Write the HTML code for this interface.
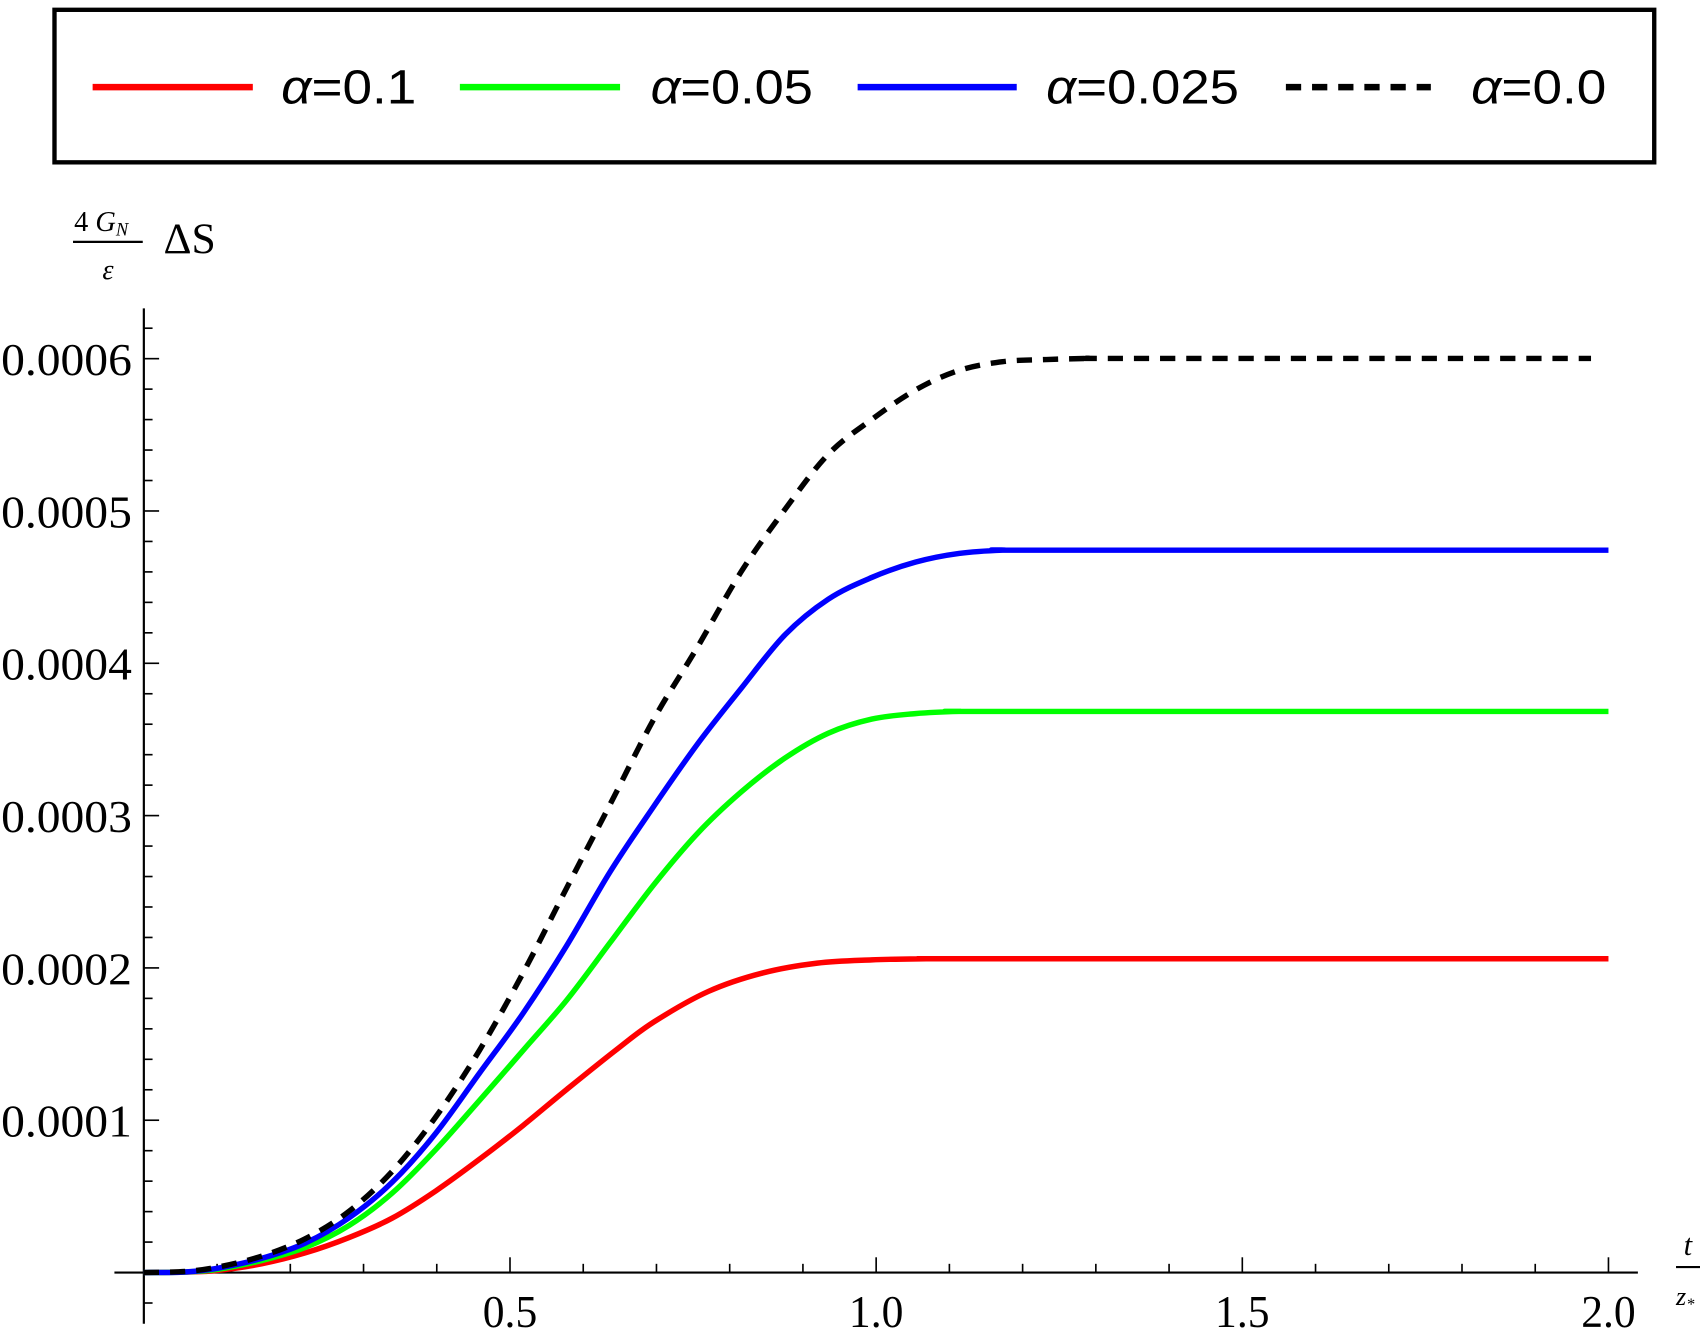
<!DOCTYPE html>
<html><head><meta charset="utf-8"><style>
html,body{margin:0;padding:0;background:#fff;}
svg{display:block;}
</style></head><body>
<svg width="1700" height="1339" viewBox="0 0 1560 1229" preserveAspectRatio="none" xmlns="http://www.w3.org/2000/svg">
<rect x="0" y="0" width="1560" height="1229" fill="#fff"/>
<rect x="50" y="9" width="1468" height="140" fill="none" stroke="#000" stroke-width="4"/>
<line x1="85" y1="80" x2="232" y2="80" stroke="#ff0000" stroke-width="6"/>
<line x1="422" y1="80" x2="569" y2="80" stroke="#00ff00" stroke-width="6"/>
<line x1="787" y1="80" x2="933" y2="80" stroke="#0000ff" stroke-width="6"/>
<line x1="1180" y1="80" x2="1313" y2="80" stroke="#000" stroke-width="6" stroke-dasharray="14,10"/>
<g font-family="Liberation Sans, sans-serif" font-size="44" fill="#000">
<text x="258" y="95" textLength="124" lengthAdjust="spacingAndGlyphs"><tspan font-style="italic">α</tspan>=0.1</text>
<text x="597" y="95" textLength="149" lengthAdjust="spacingAndGlyphs"><tspan font-style="italic">α</tspan>=0.05</text>
<text x="960" y="95" textLength="177" lengthAdjust="spacingAndGlyphs"><tspan font-style="italic">α</tspan>=0.025</text>
<text x="1350" y="95" textLength="124" lengthAdjust="spacingAndGlyphs"><tspan font-style="italic">α</tspan>=0.0</text>
</g>
<g font-family="Liberation Serif, serif" fill="#000">
<text x="68" y="212" font-size="26">4 <tspan font-style="italic">G</tspan><tspan font-style="italic" font-size="17" dy="4">N</tspan></text>
<line x1="67" y1="222" x2="131" y2="222" stroke="#000" stroke-width="2"/>
<text x="94" y="256" font-size="26" font-style="italic">ε</text>
<text x="150" y="232" font-size="40">ΔS</text>
<text x="1545" y="1152" font-size="28" font-style="italic">t</text>
<line x1="1538" y1="1163" x2="1560" y2="1163" stroke="#000" stroke-width="2"/>
<text x="1538" y="1198" font-size="24" font-style="italic">z<tspan font-size="15" dy="4">*</tspan></text>
</g>
<g stroke="#000" stroke-width="2">
<line x1="132" y1="283" x2="132" y2="1215"/>
<line x1="105" y1="1168" x2="1503" y2="1168"/>
</g>
<g id="ticks" stroke="#000" stroke-width="1.5"></g>
<g id="labels" font-family="Liberation Serif, serif" font-size="42" fill="#000"></g>
<g id="curves" fill="none" stroke-width="5" stroke-linejoin="round" stroke-linecap="butt"></g>
</svg>
<script>
(function(){
var ns="http://www.w3.org/2000/svg",t=document.getElementById("ticks"),l=document.getElementById("labels"),cg=document.getElementById("curves");
function ln(a,b,c,d){var e=document.createElementNS(ns,"line");e.setAttribute("x1",a);e.setAttribute("y1",b);e.setAttribute("x2",c);e.setAttribute("y2",d);t.appendChild(e);}
function tx(x,y,s,anc,w){var e=document.createElementNS(ns,"text");e.setAttribute("x",x);e.setAttribute("y",y);e.setAttribute("text-anchor",anc);if(w){e.setAttribute("textLength",w);e.setAttribute("lengthAdjust","spacingAndGlyphs");}e.textContent=s;l.appendChild(e);}
for(var i=1;i<=20;i++){var x=132+i*67.2;var maj=(i%5==0);ln(x,1168,x,1168-(maj?14:8));if(maj){tx(x,1218,(i/10).toFixed(1),"middle",50);}}
for(var j=-1;j<=32;j++){var y=1168-j*27.96;if(y<290||y>1215)continue;if(j==0)continue;var mj=(j%5==0);ln(132,y,132+(mj?14:8),y);if(mj){tx(121,y+15,"0.000"+(j/5),"end",120);}}
function curve(pts,col,dash){
 var d="M"+pts[0][0]+","+pts[0][1];
 for(var k=0;k<pts.length-1;k++){
  var p0=pts[Math.max(k-1,0)],p1=pts[k],p2=pts[k+1],p3=pts[Math.min(k+2,pts.length-1)];
  var c1=[p1[0]+(p2[0]-p0[0])/6,p1[1]+(p2[1]-p0[1])/6],c2=[p2[0]-(p3[0]-p1[0])/6,p2[1]-(p3[1]-p1[1])/6];
  d+=" C"+c1[0].toFixed(1)+","+c1[1].toFixed(1)+" "+c2[0].toFixed(1)+","+c2[1].toFixed(1)+" "+p2[0]+","+p2[1];
 }
 var e=document.createElementNS(ns,"path");e.setAttribute("d",d);e.setAttribute("stroke",col);if(dash)e.setAttribute("stroke-dasharray",dash);cg.appendChild(e);
}
curve([[132,1168],[170,1167.5],[200,1166],[240,1160],[280,1150],[320,1136],[360,1118],[400,1093],[440,1064],[480,1033],[520,1000],[565,964],[600,938],[650,910],[700,893],[750,884],[800,881],[850,880],[900,880],[1476,880]],"#ff0000");
curve([[132,1168],[170,1167.5],[200,1165],[240,1157],[280,1145],[320,1125],[360,1095],[400,1055],[440,1010],[481,963],[520,918],[560,865],[600,812],[640,765],[680,727],[720,696],[760,673],[800,660],[840,655],[880,653],[920,653],[1476,653]],"#00ff00");
curve([[132,1168],[170,1167.5],[200,1164],[240,1155],[280,1141],[320,1118],[360,1085],[400,1040],[440,985],[480,930],[520,868],[560,800],[600,740],[640,683],[680,632],[720,583],[760,550],[800,530],[840,516],[880,508],[920,505],[960,505],[1476,505]],"#0000ff");
curve([[132,1168],[170,1167],[200,1163],[240,1153],[280,1137],[320,1112],[360,1075],[400,1025],[440,964],[480,893],[520,815],[560,738],[600,660],[640,594],[680,525],[720,468],[760,417],[800,385],[840,358],[880,340],[920,332],[960,330],[1000,329],[1040,329],[1460,329]],"#000","14,10");
})();
</script>
</body></html>
